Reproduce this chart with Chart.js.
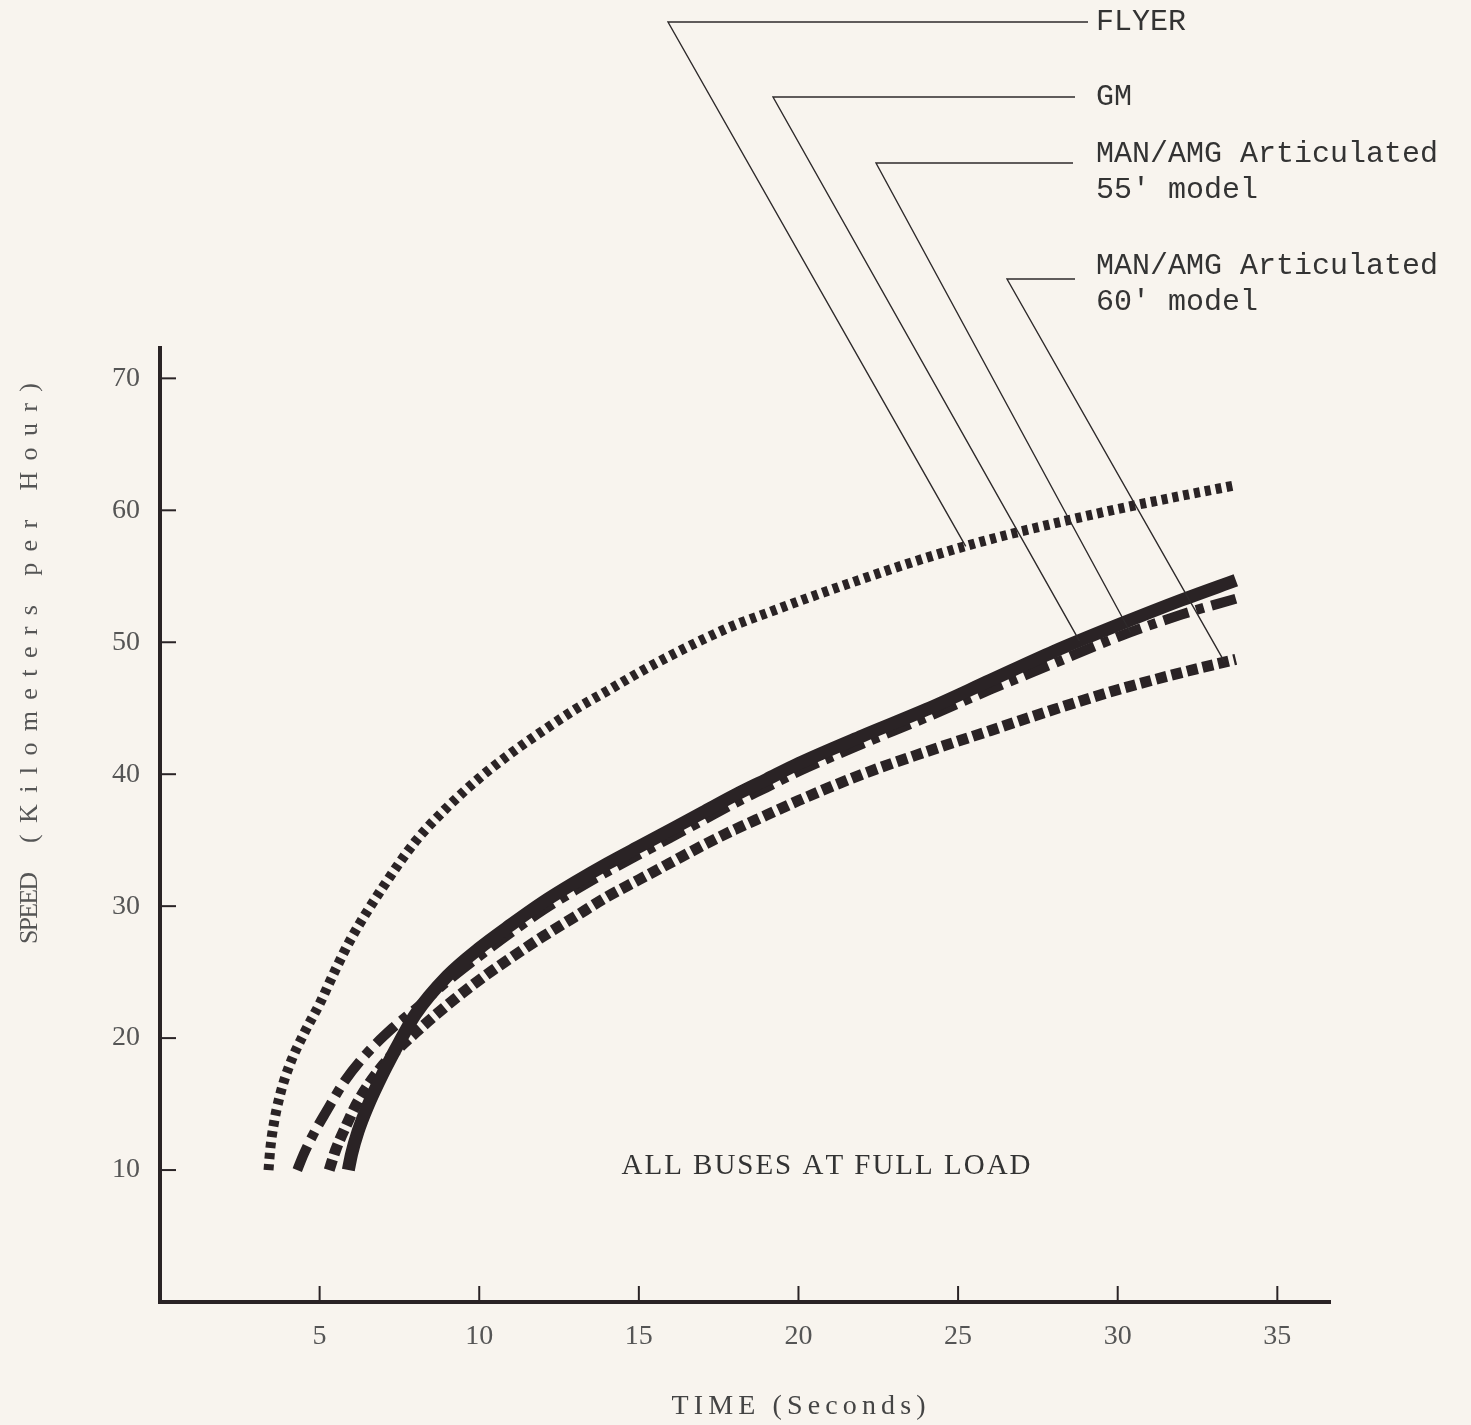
<!DOCTYPE html>
<html>
<head>
<meta charset="utf-8">
<script src="https://cdn.jsdelivr.net/npm/chart.js@4.4.1/dist/chart.umd.min.js"></script>
<style>
  html, body { margin: 0; padding: 0; background: #f8f4ee; }
  #wrap { width: 1471px; height: 1425px; }
</style>
</head>
<body>
<div id="wrap"><canvas id="grafico" width="1471" height="1425"></canvas></div>
<script>
// tempo (s) x velocidade (km/h)
const flyerTime  = [3.4, 3.45, 3.55, 3.75, 4.05, 4.5, 5.0, 5.5, 6.0, 7.0, 8.0, 9.0, 10, 11, 12, 13, 14, 15, 16, 17, 18, 19, 20, 22, 24, 26, 28, 30, 32, 33.7];
const flyerSpeed = [10, 11.5, 13.3, 15.6, 17.9, 20.3, 22.6, 25.2, 27.6, 31.5, 34.9, 37.5, 39.7, 41.6, 43.3, 44.9, 46.3, 47.7, 49.0, 50.2, 51.3, 52.2, 53.1, 54.8, 56.4, 57.8, 59.0, 60.1, 61.1, 61.9];

const gmTime  = [5.9, 6.0, 6.2, 6.5, 7.0, 7.5, 8, 9, 10, 11, 12, 13, 14, 15, 16, 17, 18, 19, 20, 22, 24, 26, 28, 30, 32, 33.7];
const gmSpeed = [10, 11.2, 12.9, 14.8, 17.4, 19.7, 21.8, 24.7, 26.8, 28.6, 30.3, 31.8, 33.2, 34.5, 35.8, 37.1, 38.4, 39.6, 40.8, 42.9, 44.9, 47.1, 49.3, 51.3, 53.2, 54.7];

const man55Time  = [4.3, 4.5, 4.8, 5.2, 5.8, 6.5, 7.3, 8, 9, 10, 11, 12, 13, 14, 15, 16, 17, 18, 19, 20, 22, 24, 26, 28, 30, 32, 33.7];
const man55Speed = [10, 11.2, 12.7, 14.4, 16.8, 18.9, 20.8, 22.2, 24.3, 26.2, 28.0, 29.7, 31.2, 32.6, 33.9, 35.2, 36.5, 37.8, 39.0, 40.2, 42.3, 44.3, 46.4, 48.4, 50.4, 52.1, 53.3];

const man60Time  = [5.3, 5.5, 5.8, 6.2, 7, 8, 9, 10, 11, 12, 13, 14, 15, 16, 17, 18, 19, 20, 22, 24, 26, 28, 30, 32, 33.7];
const man60Speed = [10, 11.5, 13.2, 15.2, 18.0, 20.4, 22.5, 24.4, 26.1, 27.7, 29.2, 30.7, 32.0, 33.3, 34.6, 35.8, 36.9, 38.0, 40.0, 41.7, 43.3, 44.9, 46.4, 47.7, 48.7];

const xTicks = [5, 10, 15, 20, 25, 30, 35];
const yTicks = [10, 20, 30, 40, 50, 60, 70];

const INK = '#2a2325';

function pts(t, v) {
    return t.map((x, i) => ({ x: x, y: v[i] }));
}

// valor interpolado da série num dado tempo (para as linhas de chamada)
function valueAt(t, v, x) {
    for (let i = 1; i < t.length; i++) {
        if (x <= t[i]) {
            const f = (x - t[i - 1]) / (t[i] - t[i - 1]);
            return v[i - 1] + f * (v[i] - v[i - 1]);
        }
    }
    return v[v.length - 1];
}

const series = [
    { t: flyerTime, v: flyerSpeed },
    { t: gmTime, v: gmSpeed },
    { t: man55Time, v: man55Speed },
    { t: man60Time, v: man60Speed }
];

// legendas com linha de chamada
const callouts = [
    { lines: ['FLYER'], s: 0, at: 25.24, elbow: [668, 22], end: 1088, textY: [22] },
    { lines: ['GM'], s: 1, at: 28.8, elbow: [773, 97], end: 1075, textY: [97] },
    { lines: ['MAN/AMG Articulated', "55' model"], s: 2, at: 30.4, elbow: [876, 163], end: 1073, textY: [154, 190] },
    { lines: ['MAN/AMG Articulated', "60' model"], s: 3, at: 33.35, elbow: [1007, 279], end: 1075, textY: [266, 302] }
];

// texto espaçado para caber numa largura
function spacedText(ctx, text, cx, cy, width, font, color, rot) {
    ctx.save();
    ctx.font = font;
    ctx.fillStyle = color;
    ctx.textBaseline = 'middle';
    ctx.textAlign = 'left';
    ctx.translate(cx, cy);
    if (rot) ctx.rotate(rot);
    const ws = [...text].map(c => ctx.measureText(c).width);
    const natural = ws.reduce((a, b) => a + b, 0);
    const gap = (width - natural) / (text.length - 1);
    let x = -width / 2;
    [...text].forEach((c, i) => {
        ctx.fillText(c, x, 0);
        x += ws[i] + gap;
    });
    ctx.restore();
}

const extras = {
    id: 'extras',
    beforeDraw(chart) {
        const ctx = chart.ctx;
        ctx.save();
        ctx.fillStyle = '#f8f4ee';
        ctx.fillRect(0, 0, chart.width, chart.height);
        ctx.restore();
    },
    afterDraw(chart) {
        const ctx = chart.ctx;
        const xs = chart.scales.x, ys = chart.scales.y;
        const area = chart.chartArea;

        // marcas dos eixos (para dentro)
        ctx.save();
        ctx.strokeStyle = INK;
        ctx.lineWidth = 2;
        yTicks.forEach(v => {
            const y = ys.getPixelForValue(v);
            ctx.beginPath();
            ctx.moveTo(area.left, y);
            ctx.lineTo(area.left + 16, y);
            ctx.stroke();
        });
        xTicks.forEach(v => {
            const x = xs.getPixelForValue(v);
            ctx.beginPath();
            ctx.moveTo(x, area.bottom);
            ctx.lineTo(x, area.bottom - 16);
            ctx.stroke();
        });

        // linhas de chamada
        ctx.lineWidth = 1.4;
        ctx.strokeStyle = '#2e2a2b';
        callouts.forEach(c => {
            const s = series[c.s];
            const tx = xs.getPixelForValue(c.at);
            const ty = ys.getPixelForValue(valueAt(s.t, s.v, c.at));
            ctx.beginPath();
            ctx.moveTo(c.end, c.elbow[1]);
            ctx.lineTo(c.elbow[0], c.elbow[1]);
            ctx.lineTo(tx, ty);
            ctx.stroke();
        });

        ctx.fillStyle = '#333';
        ctx.font = '30px "Liberation Mono"';
        ctx.textBaseline = 'middle';
        ctx.textAlign = 'left';
        callouts.forEach(c => {
            c.lines.forEach((l, i) => ctx.fillText(l, 1096, c.textY[i]));
        });
        ctx.restore();

        // títulos dos eixos e nota
        spacedText(ctx, 'SPEED', 30, 908, 72, '26px "Liberation Serif"', '#555', -Math.PI / 2);
        spacedText(ctx, '(Kilometers per Hour)', 30, 613, 460, '26px "Liberation Serif"', '#555', -Math.PI / 2);
        spacedText(ctx, 'TIME (Seconds)', xs.getPixelForValue(20), 1407, 254, '28px "Liberation Serif"', '#444', 0);
        spacedText(ctx, 'ALL BUSES AT FULL LOAD', 826, 1166, 409, '29px "Liberation Serif"', '#333', 0);
    }
};

const ctx = document.getElementById('grafico').getContext('2d');

new Chart(ctx, {
    type: 'line',
    data: {
        datasets: [
            {
                label: 'GM',
                data: pts(gmTime, gmSpeed),
                borderColor: INK,
                borderWidth: 13,
                order: 0
            },
            {
                label: 'FLYER',
                data: pts(flyerTime, flyerSpeed),
                borderColor: INK,
                borderWidth: 10,
                borderDash: [6, 5],
                order: 1
            },
            {
                label: "MAN/AMG Articulated 55' model",
                data: pts(man55Time, man55Speed),
                borderColor: INK,
                borderWidth: 10,
                borderDash: [26, 8, 8, 8],
                order: 2
            },
            {
                label: "MAN/AMG Articulated 60' model",
                data: pts(man60Time, man60Speed),
                borderColor: INK,
                borderWidth: 11,
                borderDash: [11, 5],
                order: 3
            }
        ]
    },
    options: {
        responsive: false,
        animation: false,
        layout: { padding: { left: 0, top: 348, right: 141, bottom: 0 } },
        elements: {
            point: { radius: 0 },
            line: { cubicInterpolationMode: 'monotone', borderCapStyle: 'butt', fill: false }
        },
        plugins: {
            legend: { display: false },
            tooltip: { enabled: false }
        },
        scales: {
            x: {
                type: 'linear',
                min: 0,
                max: 36.65,
                afterBuildTicks: s => { s.ticks = xTicks.map(v => ({ value: v })); },
                afterFit: s => { s.height = 1425 - 1302; },
                grid: { drawOnChartArea: false, drawTicks: false },
                border: { display: true, color: INK, width: 4 },
                ticks: {
                    padding: 18,
                    color: '#555',
                    font: { family: 'Liberation Serif', size: 28 }
                }
            },
            y: {
                type: 'linear',
                min: 0,
                max: 72.3,
                afterBuildTicks: s => { s.ticks = yTicks.map(v => ({ value: v })); },
                afterFit: s => { s.width = 160; },
                grid: { drawOnChartArea: false, drawTicks: false },
                border: { display: true, color: INK, width: 4 },
                ticks: {
                    padding: 20,
                    color: '#555',
                    font: { family: 'Liberation Serif', size: 28 }
                }
            }
        }
    },
    plugins: [extras]
});
</script>
</body>
</html>
